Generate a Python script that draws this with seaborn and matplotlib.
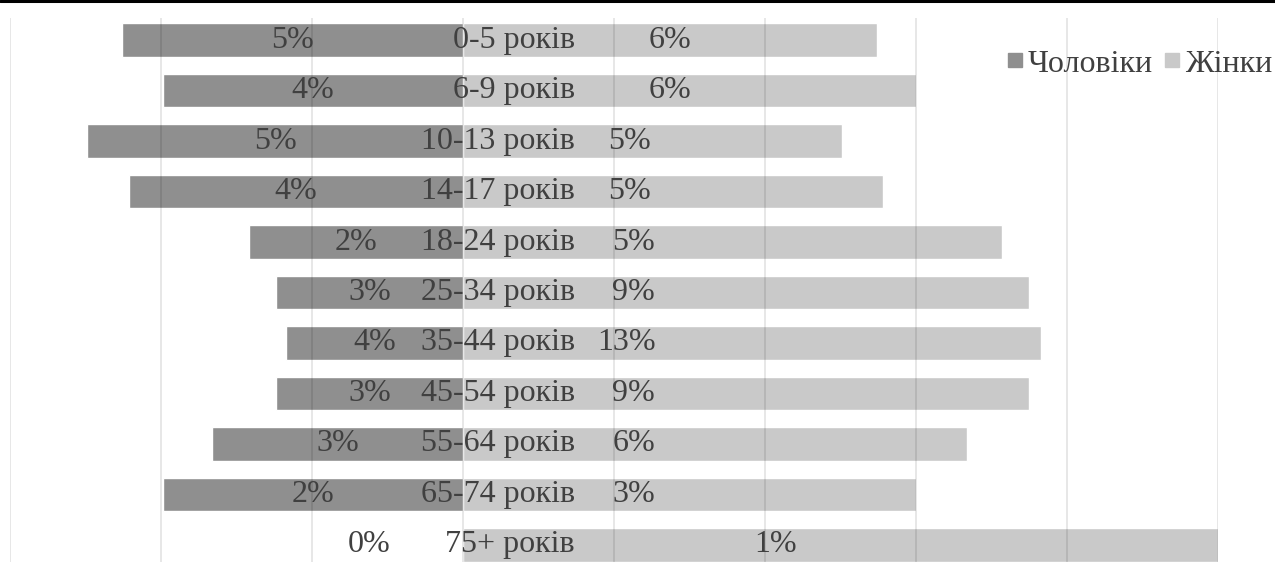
import numpy as np
import pandas as pd
import matplotlib
matplotlib.use("Agg")
import matplotlib.pyplot as plt
from matplotlib.lines import Line2D
import seaborn as sns

# age groups, top to bottom
age_groups = ["0-5 років", "6-9 років", "10-13 років", "14-17 років", "18-24 років",
              "25-34 років", "35-44 років", "45-54 років", "55-64 років", "65-74 років",
              "75+ років"]
# bar lengths (grid units)
men = [2.26, 1.99, 2.49, 2.21, 1.42, 1.24, 1.17, 1.24, 1.66, 1.99, 0.0]
women = [2.74, 3.0, 2.51, 2.78, 3.57, 3.75, 3.83, 3.75, 3.34, 3.0, 5.0]
# data labels as printed
men_labels = ["5%", "4%", "5%", "4%", "2%", "3%", "4%", "3%", "3%", "2%", "0%"]
women_labels = ["6%", "6%", "5%", "5%", "5%", "9%", "13%", "9%", "6%", "3%", "1%"]
series_names = ["Чоловіки", "Жінки"]

MEN_COLOR = "#8f8f8f"
WOMEN_COLOR = "#c9c9c9"
TEXT_COLOR = "#404040"
FONT = ["Liberation Serif", "DejaVu Serif"]

# where the women labels sit (Excel put them by hand)
women_label_x = [1.37, 1.37, 1.10, 1.10, 1.13, 1.13, 1.08, 1.13, 1.13, 1.13, 2.07]
cat_label_x = 0.74

df = pd.DataFrame({"age": age_groups, "men": -np.array(men), "women": women})

sns.set_theme(style="white")
plt.rcParams["font.family"] = FONT

fig = plt.figure(figsize=(12.75, 5.62), dpi=100)
ax = fig.add_axes([10 / 1275, 0, (1218 - 10) / 1275, (562 - 18) / 562])

sns.barplot(data=df, x="men", y="age", order=age_groups, color=MEN_COLOR,
            width=0.67, saturation=1, ax=ax, orient="h")
sns.barplot(data=df, x="women", y="age", order=age_groups, color=WOMEN_COLOR,
            width=0.67, saturation=1, ax=ax, orient="h")

ax.set_xlim(-3, 5)
ax.set_ylim(10.337, -0.436)
ax.set_xticks(range(-3, 6))
ax.set_xticklabels([])
ax.set_yticks([])
ax.set_xlabel("")
ax.set_ylabel("")
ax.tick_params(length=0)
ax.set_axisbelow(False)
ax.grid(axis="x", color="black", alpha=0.1, linewidth=1.3)
for s in ax.spines.values():
    s.set_visible(False)

fs = 23
for i, age in enumerate(age_groups):
    mx = -men[i] / 2 if men[i] > 0 else -0.62
    ax.text(mx, i, men_labels[i], ha="center", va="center", fontsize=fs,
            color=TEXT_COLOR, zorder=5)
    ax.text(women_label_x[i], i, women_labels[i], ha="center", va="center",
            fontsize=fs, color=TEXT_COLOR, zorder=5)
    ax.text(cat_label_x, i, age, ha="right", va="center", fontsize=fs,
            color=TEXT_COLOR, zorder=5)

handles = [Line2D([], [], marker="s", linestyle="", markersize=10, color=c)
           for c in (MEN_COLOR, WOMEN_COLOR)]
leg = fig.legend(handles, series_names, loc="center right",
                 bbox_to_anchor=(1.0, 1 - 64 / 562), ncol=2, frameon=False,
                 fontsize=fs, handletextpad=0.0, columnspacing=0.2,
                 handlelength=0.8, borderpad=0, borderaxespad=0.1)
for t in leg.get_texts():
    t.set_color(TEXT_COLOR)

# thin black rule across the top edge
fig.add_artist(Line2D([0, 1], [1 - 1.3 / 562] * 2, color="black", linewidth=2.2,
                      transform=fig.transFigure))

fig.savefig("out.png", dpi=100)
